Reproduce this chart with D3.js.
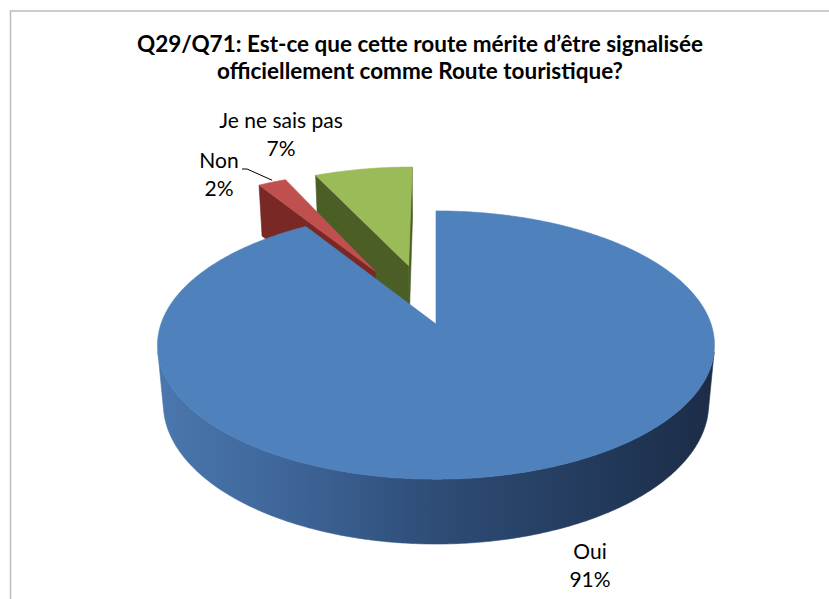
<!DOCTYPE html>
<html>
<head>
<meta charset="utf-8">
<script src="https://cdn.jsdelivr.net/npm/d3@7"></script>
<style>
  body { margin: 0; background: #fff; }
  text { font-family: Lato, "Open Sans", sans-serif; fill: #000; }
</style>
</head>
<body>
<div id="chart"></div>
<script>
// données
const categories = ["Oui", "Non", "Je ne sais pas"];
const values = [91, 2, 7];
const titleLines = ["Q29/Q71: Est-ce que cette route mérite d\u2019être signalisée",
                    "officiellement comme Route touristique?"];

const width = 829, height = 599;

// projection 3D (perspective) du camembert
const cx = 436, cy = 324, F = 1543, D = 5.61;
const tilt = 28.4 * Math.PI / 180, s = Math.sin(tilt), c = Math.cos(tilt);
const H = 0.245;     // épaisseur
const EXPL = 0.49;   // éclatement des petites parts

function proj(X, h, Z) {
    const depth = D - h * s - Z * c;
    return [cx + F * X / depth, cy + F * (Z * s - h * c) / depth];
}

const topColor = d3.scaleOrdinal().domain(categories).range(["#4f81bd", "#c0504d", "#9bbb59"]);
const sideColor = d3.scaleOrdinal().domain(categories).range(["url(#blueSide)", "#7a2825", "#4b5e25"]);

const svg = d3.select("#chart").append("svg")
    .attr("width", width).attr("height", height);

const defs = svg.append("defs");
const grad = defs.append("linearGradient").attr("id", "blueSide")
    .attr("gradientUnits", "userSpaceOnUse")
    .attr("x1", 158).attr("x2", 718).attr("y1", 0).attr("y2", 0);
[[0, "#4a77ae"], [0.25, "#3d6497"], [0.5, "#2e4c76"], [0.8, "#22395a"], [1, "#1b2c46"]]
    .forEach(function(st) { grad.append("stop").attr("offset", st[0]).attr("stop-color", st[1]); });

// cadre
svg.append("rect").attr("x", 10.5).attr("y", 11).attr("width", 830).attr("height", 620)
    .attr("fill", "none").attr("stroke", "#bcbcbc").attr("stroke-width", 1.5);

// titre
svg.selectAll(".title").data(titleLines).enter().append("text")
    .attr("class", "title")
    .attr("x", 420).attr("y", function(d, i) { return 52 + i * 27; })
    .attr("text-anchor", "middle")
    .style("font-weight", "bold").style("font-size", "22.5px")
    .text(function(d) { return d; });

const pie_data = d3.pie().sort(null)(values).map(function(d, i) {
    const mid = (d.startAngle + d.endAngle) / 2;
    const e = i === 0 ? 0 : EXPL;
    return { cat: categories[i], value: d.value, a0: d.startAngle, a1: d.endAngle,
             ox: e * Math.sin(mid), oz: -e * Math.cos(mid) };
});

function rim(d, a, h) { return proj(d.ox + Math.sin(a), h, d.oz - Math.cos(a)); }
function center(d, h) { return proj(d.ox, h, d.oz); }
function visible(nx, nz, px, ph, pz) {
    return nx * (0 - px) + nz * (D * c - pz) > 0;
}
const line = d3.line();

function drawSlice(d) {
    const g = svg.append("g").attr("class", "slice");
    const n = Math.max(4, Math.ceil((d.a1 - d.a0) / 0.01));
    const angles = d3.range(n + 1).map(function(k) { return d.a0 + (d.a1 - d.a0) * k / n; });

    // faces radiales
    [[d.a0, -1], [d.a1, 1]].forEach(function(f) {
        const a = f[0];
        const nx = f[1] * Math.cos(a), nz = f[1] * Math.sin(a);
        const px = d.ox + 0.5 * Math.sin(a), pz = d.oz - 0.5 * Math.cos(a);
        if (!visible(nx, nz, px, 0, pz)) return;
        const pts = [center(d, 0), rim(d, a, 0), rim(d, a, -H), center(d, -H)];
        g.append("path").attr("d", line(pts) + "Z")
            .attr("fill", sideColor(d.cat)).attr("stroke", sideColor(d.cat)).attr("stroke-width", 0.6);
    });

    // paroi extérieure
    const vis = angles.filter(function(a) {
        const px = d.ox + Math.sin(a), pz = d.oz - Math.cos(a);
        return visible(Math.sin(a), -Math.cos(a), px, 0, pz);
    });
    if (vis.length > 1) {
        const pts = vis.map(function(a) { return rim(d, a, 0); })
            .concat(vis.slice().reverse().map(function(a) { return rim(d, a, -H); }));
        g.append("path").attr("d", line(pts) + "Z")
            .attr("fill", sideColor(d.cat)).attr("stroke", sideColor(d.cat)).attr("stroke-width", 0.6);
    }

    // dessus
    const topPts = [center(d, 0)].concat(angles.map(function(a) { return rim(d, a, 0); }));
    g.append("path").attr("d", line(topPts) + "Z")
        .attr("fill", topColor(d.cat)).attr("stroke", topColor(d.cat)).attr("stroke-width", 0.6);
}

// de l'arrière vers l'avant
pie_data.slice().sort(function(a, b) { return a.oz - b.oz; }).forEach(drawSlice);

// étiquettes
const labelPos = { "Oui": [590, 559], "Non": [219, 168], "Je ne sais pas": [281, 128] };
pie_data.forEach(function(d) {
    const p = labelPos[d.cat];
    const t = svg.append("text").attr("text-anchor", "middle").style("font-size", "21px");
    t.append("tspan").attr("x", p[0]).attr("y", p[1]).text(d.cat);
    t.append("tspan").attr("x", p[0]).attr("y", p[1] + 28).text(d.value + "%");
});

// ligne de rappel pour "Non"
const non = pie_data[1];
const tip = rim(non, (non.a0 + non.a1) / 2, 0);
svg.append("path")
    .attr("d", line([[242, 169], [247, 169], [tip[0], tip[1] - 2]]))
    .attr("fill", "none").attr("stroke", "#000").attr("stroke-width", 1);
</script>
</body>
</html>
